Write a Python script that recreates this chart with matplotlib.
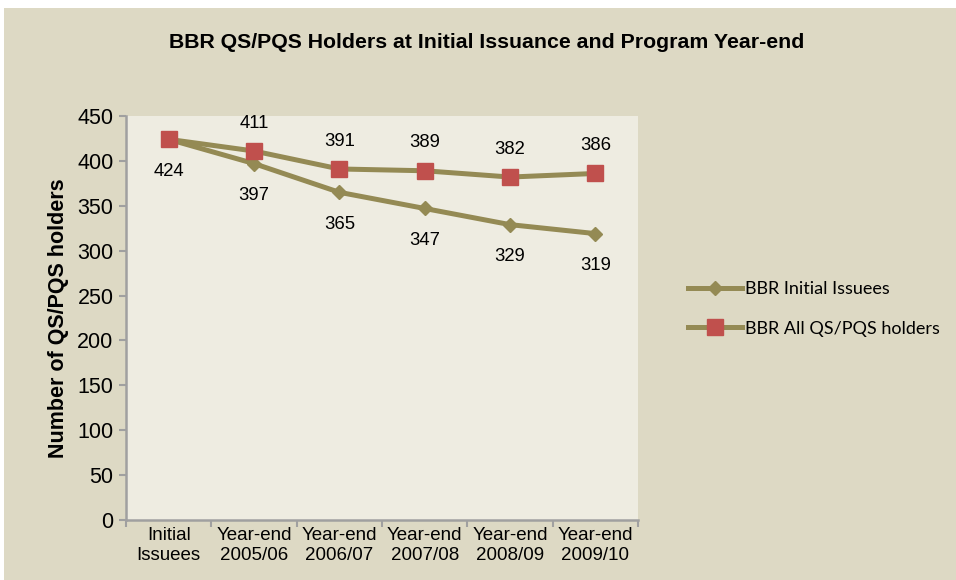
import matplotlib
matplotlib.use("Agg")
import matplotlib.pyplot as plt
from matplotlib.patches import Rectangle

categories = ["Initial\nIssuees", "Year-end\n2005/06", "Year-end\n2006/07",
              "Year-end\n2007/08", "Year-end\n2008/09", "Year-end\n2009/10"]
initial_issuees = [424, 397, 365, 347, 329, 319]
all_holders = [424, 411, 391, 389, 382, 386]
yticks = [0, 50, 100, 150, 200, 250, 300, 350, 400, 450]

W, H = 956, 580
fig = plt.figure(figsize=(W / 100, H / 100), dpi=100)
fig.patch.set_facecolor("white")
fig.patches.append(Rectangle((4 / W, 0), 1 - 4 / W, 1 - 8 / H, transform=fig.transFigure,
                             facecolor="#DDD9C4", edgecolor="none", zorder=0))

ax = fig.add_axes([126 / W, 1 - 520 / H, (638 - 126) / W, (520 - 116) / H])
ax.set_facecolor("#EEECE1")
ax.set_zorder(1)

line_col = "#948A54"
x = list(range(len(categories)))
l1, = ax.plot(x, initial_issuees, color=line_col, lw=3.6, marker="D", ms=7.5,
              mfc=line_col, mec=line_col, label="BBR Initial Issuees", zorder=3)
l2, = ax.plot(x, all_holders, color=line_col, lw=3.6, marker="s", ms=11,
              mfc="#C0504D", mec="#C0504D", label="BBR All QS/PQS holders", zorder=4)

for i, v in enumerate(initial_issuees):
    ax.annotate(str(v), (i, v), xytext=(0, -17), textcoords="offset points",
                ha="center", va="top", fontsize=13.3, family="Liberation Sans", color="black",
                annotation_clip=False)
for i, v in enumerate(all_holders):
    if i == 0:
        continue
    ax.annotate(str(v), (i, v), xytext=(0, 14), textcoords="offset points",
                ha="center", va="bottom", fontsize=13.3, family="Liberation Sans", color="black",
                annotation_clip=False)

ax.set_xlim(-0.5, len(categories) - 0.5)
ax.set_ylim(0, 450)
ax.set_yticks(yticks)
ax.set_yticklabels([str(t) for t in yticks], fontsize=15.5, family="Liberation Sans")
ax.set_xticks([i - 0.5 for i in range(len(categories) + 1)])
ax.set_xticklabels([])
ax.set_xticks(x, minor=True)
ax.set_xticklabels(categories, minor=True, fontsize=13.5, family="Liberation Sans",
                   linespacing=1.25)
ax.tick_params(axis="x", which="minor", length=0, pad=5)
ax.tick_params(axis="x", which="major", length=5, color="#A0A0A0", direction="out", width=1.5)
ax.tick_params(axis="y", length=5, color="#A0A0A0", direction="out", pad=4, width=1.5)
for s in ["top", "right"]:
    ax.spines[s].set_visible(False)
for s in ["left", "bottom"]:
    ax.spines[s].set_color("#A0A0A0")
    ax.spines[s].set_linewidth(1.8)

ax.set_ylabel("Number of QS/PQS holders", fontsize=15.5, fontweight="bold",
              family="Liberation Sans", labelpad=6)

fig.text(487 / W, 1 - 42 / H, "BBR QS/PQS Holders at Initial Issuance and Program Year-end",
         ha="center", va="center", fontsize=15.3, fontweight="bold",
         family="Liberation Sans")

leg = fig.legend(handles=[l1, l2], loc="center left", bbox_to_anchor=(672 / W, 1 - 309 / H),
                 frameon=False, prop={"family": "Lato", "size": 13}, handlelength=3.0,
                 handletextpad=0.15, labelspacing=1.3)

fig.savefig("out.png", dpi=100, facecolor=fig.get_facecolor())
